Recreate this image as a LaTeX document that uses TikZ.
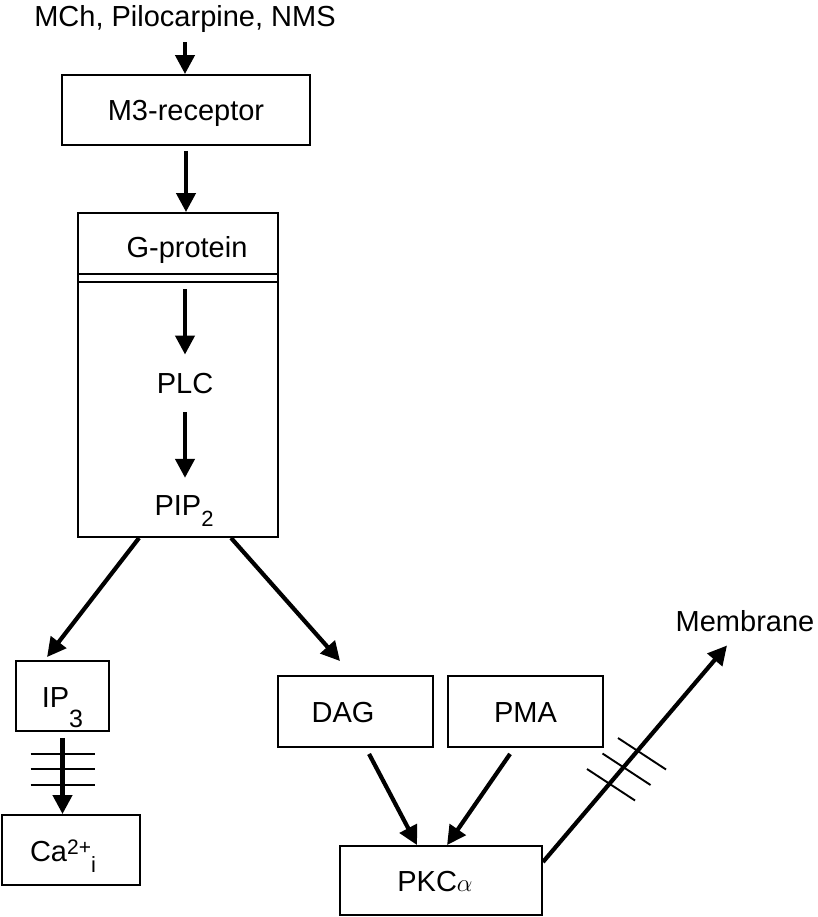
\documentclass[tikz,border=0pt]{standalone}
\usepackage{fontspec}
\setmainfont{Liberation Sans}
\usetikzlibrary{calc}
\usetikzlibrary{arrows.meta}
\newcommand\lowr[2][11pt]{\raisebox{-#1}{\fontsize{22}{22}\selectfont #2}}
\newcommand\highr[1]{\raisebox{7pt}{\fontsize{21}{21}\selectfont #1}}

\begin{document}
\begin{tikzpicture}[x=1pt,y=-1pt,
  every node/.style={font=\fontsize{29}{34}\selectfont},
  lbl/.style={inner sep=0pt,anchor=base},
  box/.style={draw,line width=1.9pt,inner sep=0pt,minimum height=70pt,text height=22pt,text depth=0pt},
  arr/.style={line width=4.2pt,-{Triangle[length=19pt,width=19pt]}},
  rule/.style={line width=1.9pt}]

\useasboundingbox (0,0) rectangle (817,917);

\node[lbl] (src) at (185,27) {MCh, Pilocarpine, NMS};
\node[box,minimum width=248pt] (m3) at (186,110) {M3-receptor};
\node[box,minimum width=200pt,minimum height=324pt] (gbox) at (178,375) {};
\node[lbl] (gtxt) at (187,257) {G-protein};
\node[lbl] (plc) at (185,393) {PLC};
\node[lbl] (pip) at (184,515) {PIP\lowr{2}};

% double line under G-protein
\draw[rule] ($(gbox.north west)+(0,62)$) -- ($(gbox.north east)+(0,62)$);
\coordinate (sep) at ($(gbox.north west)+(0,70)$);
\draw[rule] (sep) -- (sep -| gbox.east);

\node[box,minimum width=93pt] (ip) at (62.5,696) {IP\lowr[20pt]{\fontsize{25}{25}\selectfont 3}};
\node[box,minimum width=138pt] (ca) at (71,850) {Ca\highr{2+}\lowr{i}\hspace*{16pt}};
\node[box,minimum width=155pt,minimum height=71pt] (dag) at (355.5,711.5) {DAG\hspace*{25pt}};
\node[box,minimum width=155pt,minimum height=71pt] (pma) at (525.5,711.5) {PMA};
\node[box,minimum width=202pt,minimum height=69pt] (pkc) at (441,880.5) {PKC$\alpha$\hspace*{12pt}};
\node[lbl] (mem) at (745,631) {Membrane};

\draw[arr] ([yshift=-9pt]src.south) -- (src.south |- m3.north);
\draw[arr] ([yshift=-5pt]m3.south) -- (m3.south |- gbox.north);
\draw[arr] ($(sep -| plc)+(0,7)$) -- ([yshift=18pt]plc.north);
\draw[arr] ([yshift=-19pt]plc.south) -- ([yshift=17pt]plc.south |- pip.north);

\draw[arr] ($(gbox.south west)+(62,0)$) -- ($(ip.north west)+(32,-3)$);
\draw[arr] ($(gbox.south west)+(154,0)$) -- ($(dag.north west)+(63,-14)$);

% blocked path to calcium
\draw[arr] ([yshift=-6pt]ip.south) -- (ip.south |- ca.north);
\foreach \d in {22,37,53}
  \draw[rule] ($(ip.south)+(-32,\d)$) -- +(64,0);

\draw[arr] ($(dag.south west)+(92,6)$) -- ($(pkc.north west)+(78,0)$);
\draw[arr] ($(pma.south west)+(63,6)$) -- ($(pkc.north west)+(108,0)$);

% blocked translocation
\draw[arr] ($(pkc.east)+(0,-18.5)$) -- ($(mem.south)+(-18,14)$);
\foreach \k in {0,1,2}
  \draw[rule] ($(618,738)+(-15.5*\k,15.5*\k)$) -- +(48,31.5);

\end{tikzpicture}
\end{document}
